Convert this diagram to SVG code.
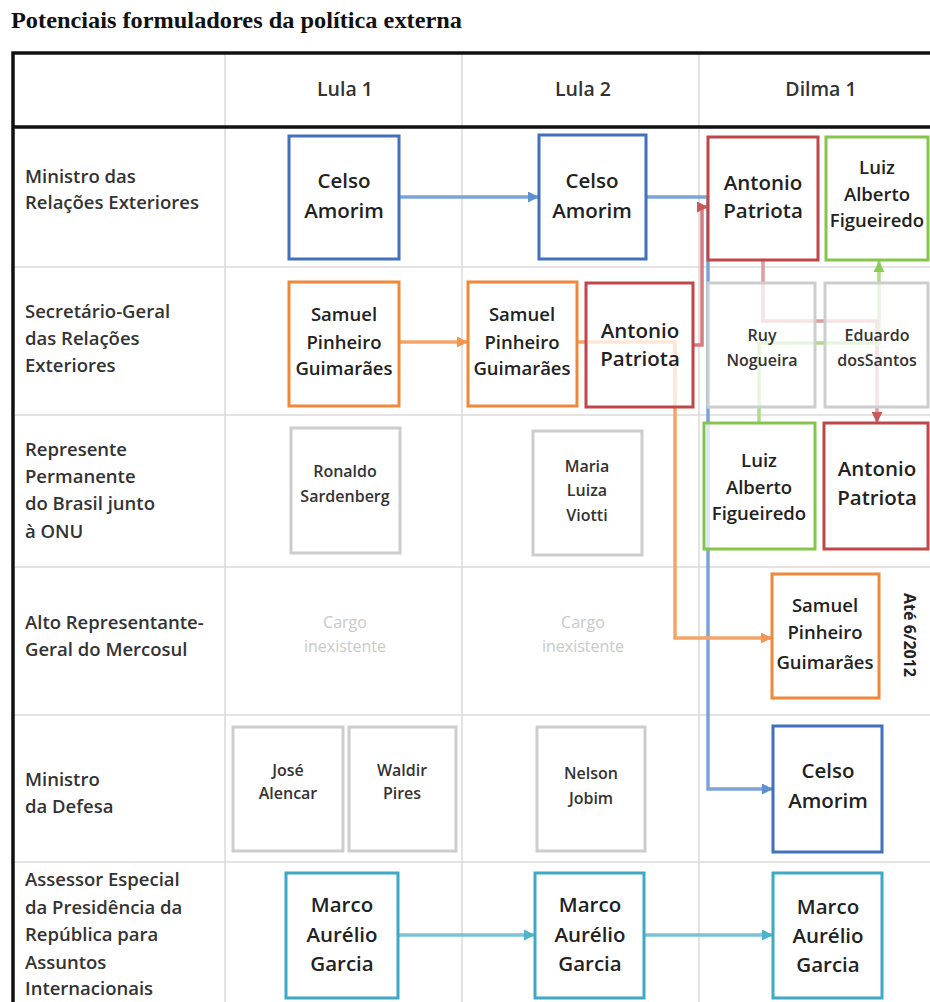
<svg xmlns="http://www.w3.org/2000/svg" width="930" height="1002" viewBox="0 0 930 1002">
<defs>
<style>
.title{font-family:"Liberation Serif","Times New Roman",serif;font-weight:bold;font-size:23.5px;fill:#111}
.hdr{font-family:"Open Sans","Liberation Sans",sans-serif;font-weight:600;font-size:19.5px;fill:#333;text-anchor:middle}
.lbl{font-family:"Open Sans","Liberation Sans",sans-serif;font-weight:600;font-size:18.5px;fill:#333}
.grid{stroke:#DADADA;stroke-width:1.5;fill:none}
.node{fill:#fff;fill-opacity:0.72;stroke-width:3}
.blue{stroke:#4270BC}
.orange{stroke:#F0883A}
.red{stroke:#BF4649}
.green{stroke:#86C54B}
.teal{stroke:#3DA9C4}
.gray{stroke:#CDCDCD}
.big{font-family:"Open Sans","Liberation Sans",sans-serif;font-weight:600;font-size:20.5px;fill:#222;text-anchor:middle}
.mid{font-family:"Open Sans","Liberation Sans",sans-serif;font-weight:600;font-size:18.5px;fill:#222;text-anchor:middle}
.sm{font-family:"Open Sans","Liberation Sans",sans-serif;font-weight:600;font-size:16px;fill:#333;text-anchor:middle}
.na{font-family:"Open Sans","Liberation Sans",sans-serif;font-size:16px;fill:#C9C9C9;text-anchor:middle}
.note{font-family:"Open Sans","Liberation Sans",sans-serif;font-size:16px;font-weight:bold;fill:#222;text-anchor:middle}
.conn{fill:none;stroke-width:3.5}
</style>
<marker id="aBlue" markerUnits="userSpaceOnUse" markerWidth="11" markerHeight="11" refX="11" refY="5.5" orient="auto"><path d="M0,0 L11,5.5 L0,11 z" fill="#5E8FD0"/></marker>
<marker id="aOrange" markerUnits="userSpaceOnUse" markerWidth="11" markerHeight="11" refX="11" refY="5.5" orient="auto"><path d="M0,0 L11,5.5 L0,11 z" fill="#F2954D"/></marker>
<marker id="aRed" markerUnits="userSpaceOnUse" markerWidth="11" markerHeight="11" refX="11" refY="5.5" orient="auto"><path d="M0,0 L11,5.5 L0,11 z" fill="#C9585A"/></marker>
<marker id="aGreen" markerUnits="userSpaceOnUse" markerWidth="11" markerHeight="11" refX="11" refY="5.5" orient="auto"><path d="M0,0 L11,5.5 L0,11 z" fill="#8ACB52"/></marker>
<marker id="aTeal" markerUnits="userSpaceOnUse" markerWidth="11" markerHeight="11" refX="11" refY="5.5" orient="auto"><path d="M0,0 L11,5.5 L0,11 z" fill="#4FB2CB"/></marker>
</defs>
<rect width="930" height="1002" fill="#fff"/>
<text class="title" x="11" y="28" textLength="451" lengthAdjust="spacingAndGlyphs">Potenciais formuladores da política externa</text>

<g id="table">
<path class="grid" d="M225,52 V1002 M462,52 V1002 M699,52 V1002 M12,267 H930 M12,415 H930 M12,567 H930 M12,715 H930 M12,862 H930"/>
<path d="M940,53 H13 V1010" fill="none" stroke="#111" stroke-width="3.5"/>
<path d="M12,127 H930" stroke="#111" stroke-width="3.5"/>
<text class="hdr" x="345" y="96">Lula 1</text>
<text class="hdr" x="583" y="96">Lula 2</text>
<text class="hdr" x="821" y="96">Dilma 1</text>
<text class="lbl" x="25" y="183">Ministro das</text>
<text class="lbl" x="25" y="209">Relações Exteriores</text>
<text class="lbl" x="25" y="318">Secretário-Geral</text>
<text class="lbl" x="25" y="345">das Relações</text>
<text class="lbl" x="25" y="372">Exteriores</text>
<text class="lbl" x="25" y="456">Represente</text>
<text class="lbl" x="25" y="483">Permanente</text>
<text class="lbl" x="25" y="510">do Brasil junto</text>
<text class="lbl" x="25" y="538">à ONU</text>
<text class="lbl" x="25" y="629">Alto Representante-</text>
<text class="lbl" x="25" y="656">Geral do Mercosul</text>
<text class="lbl" x="25" y="786">Ministro</text>
<text class="lbl" x="25" y="813">da Defesa</text>
<text class="lbl" x="25" y="886">Assessor Especial</text>
<text class="lbl" x="25" y="914">da Presidência da</text>
<text class="lbl" x="25" y="941">República para</text>
<text class="lbl" x="25" y="969">Assuntos</text>
<text class="lbl" x="25" y="995">Internacionais</text>
<text class="na" x="345" y="628">Cargo</text>
<text class="na" x="345" y="652">inexistente</text>
<text class="na" x="583" y="628">Cargo</text>
<text class="na" x="583" y="652">inexistente</text>
<text class="note" transform="translate(910,635) rotate(90)" y="6">Até 6/2012</text>
</g>

<g id="connectors">
<path class="conn" stroke="#7EA3D8" d="M399,197 H539" marker-end="url(#aBlue)"/>
<path class="conn" stroke="#7EA3D8" d="M646,197 H708 V789 H773" marker-end="url(#aBlue)"/>
<path class="conn" stroke="#D57C7E" d="M693,345 H702 V207 H708" marker-end="url(#aRed)"/>
<path class="conn" stroke="#DE9C9C" stroke-width="2.5" d="M763,260 V321 H877 V423" marker-end="url(#aRed)"/>
<path class="conn" stroke="#AEDB8A" stroke-width="2.5" d="M759,423 V343 H879 V261" marker-end="url(#aGreen)"/>
<path class="conn" stroke="#F4A468" d="M399,342 H468" marker-end="url(#aOrange)"/>
<path class="conn" stroke="#F4A468" d="M577,342 H675 V638 H772" marker-end="url(#aOrange)"/>
<path class="conn" stroke="#7CC3D6" d="M398,935 H535" marker-end="url(#aTeal)"/>
<path class="conn" stroke="#7CC3D6" d="M644,935 H773" marker-end="url(#aTeal)"/>
</g>

<g id="n-l1-celso"><rect class="node blue" x="289" y="136" width="110" height="123"/><text class="big" x="344" y="188">Celso</text><text class="big" x="344" y="218">Amorim</text></g>
<g id="n-l1-samuel"><rect class="node orange" x="289" y="282" width="110" height="124"/><text class="mid" x="344" y="321">Samuel</text><text class="mid" x="344" y="349">Pinheiro</text><text class="mid" x="344" y="375">Guimarães</text></g>
<g id="n-l1-ronaldo"><rect class="node gray" x="291" y="428" width="109" height="125"/><text class="sm" x="345" y="477">Ronaldo</text><text class="sm" x="345" y="502">Sardenberg</text></g>
<g id="n-l1-jose"><rect class="node gray" x="233" y="727" width="110" height="124"/><text class="sm" x="288" y="776">José</text><text class="sm" x="288" y="799">Alencar</text></g>
<g id="n-l1-waldir"><rect class="node gray" x="349" y="727" width="107" height="124"/><text class="sm" x="402" y="776">Waldir</text><text class="sm" x="402" y="799">Pires</text></g>
<g id="n-l1-marco"><rect class="node teal" x="286" y="873" width="112" height="125"/><text class="big" x="342" y="912">Marco</text><text class="big" x="342" y="942">Aurélio</text><text class="big" x="342" y="971">Garcia</text></g>

<g id="n-l2-celso"><rect class="node blue" x="539" y="135" width="107" height="124"/><text class="big" x="592" y="188">Celso</text><text class="big" x="592" y="218">Amorim</text></g>
<g id="n-l2-samuel"><rect class="node orange" x="468" y="282" width="109" height="124"/><text class="mid" x="522" y="321">Samuel</text><text class="mid" x="522" y="349">Pinheiro</text><text class="mid" x="522" y="375">Guimarães</text></g>
<g id="n-l2-patriota"><rect class="node red" x="586" y="283" width="107" height="124"/><text class="big" x="640" y="338">Antonio</text><text class="big" x="640" y="366">Patriota</text></g>
<g id="n-l2-maria"><rect class="node gray" x="533" y="431" width="109" height="124"/><text class="sm" x="587" y="472">Maria</text><text class="sm" x="587" y="496">Luiza</text><text class="sm" x="587" y="521">Viotti</text></g>
<g id="n-l2-nelson"><rect class="node gray" x="537" y="727" width="108" height="124"/><text class="sm" x="591" y="779">Nelson</text><text class="sm" x="591" y="804">Jobim</text></g>
<g id="n-l2-marco"><rect class="node teal" x="535" y="873" width="109" height="125"/><text class="big" x="590" y="912">Marco</text><text class="big" x="590" y="942">Aurélio</text><text class="big" x="590" y="971">Garcia</text></g>

<g id="n-d1-patriota"><rect class="node red" x="708" y="137" width="110" height="123"/><text class="big" x="763" y="190">Antonio</text><text class="big" x="763" y="218">Patriota</text></g>
<g id="n-d1-luiz"><rect class="node green" x="826" y="137" width="102" height="123"/><text class="mid" x="877" y="174">Luiz</text><text class="mid" x="877" y="201">Alberto</text><text class="mid" x="877" y="227">Figueiredo</text></g>
<g id="n-d1-ruy"><rect class="node gray" x="708" y="283" width="107" height="124"/><text class="sm" x="762" y="341">Ruy</text><text class="sm" x="762" y="366">Nogueira</text></g>
<g id="n-d1-eduardo"><rect class="node gray" x="825" y="283" width="103" height="124"/><text class="sm" x="877" y="341">Eduardo</text><text class="sm" x="877" y="366">dosSantos</text></g>
<g id="n-d1-luiz2"><rect class="node green" x="704" y="423" width="111" height="126"/><text class="mid" x="759" y="467">Luiz</text><text class="mid" x="759" y="494">Alberto</text><text class="mid" x="759" y="520">Figueiredo</text></g>
<g id="n-d1-patriota2"><rect class="node red" x="824" y="423" width="104" height="126"/><text class="big" x="877" y="476">Antonio</text><text class="big" x="877" y="505">Patriota</text></g>
<g id="n-d1-samuel"><rect class="node orange" x="772" y="574" width="107" height="124"/><text class="mid" x="825" y="612">Samuel</text><text class="mid" x="825" y="639">Pinheiro</text><text class="mid" x="825" y="669">Guimarães</text></g>
<g id="n-d1-celso"><rect class="node blue" x="773" y="726" width="109" height="126"/><text class="big" x="828" y="778">Celso</text><text class="big" x="828" y="808">Amorim</text></g>
<g id="n-d1-marco"><rect class="node teal" x="773" y="873" width="109" height="125"/><text class="big" x="828" y="914">Marco</text><text class="big" x="828" y="943">Aurélio</text><text class="big" x="828" y="972">Garcia</text></g>
</svg>
